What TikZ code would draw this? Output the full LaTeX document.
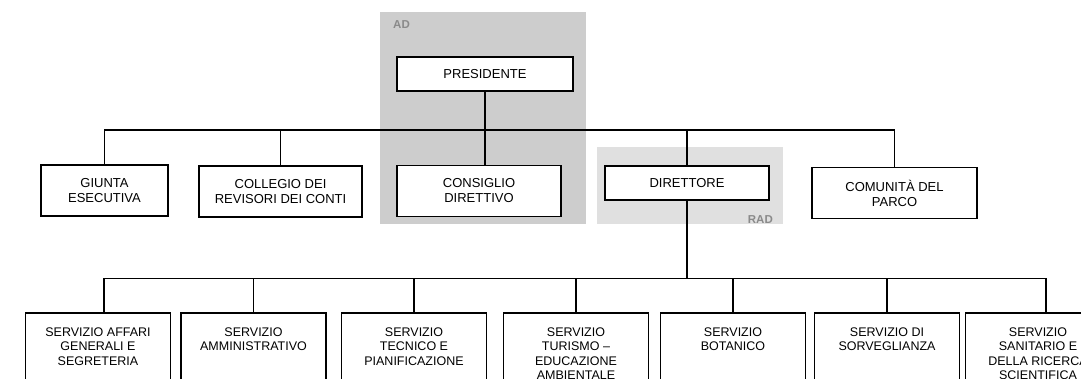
\documentclass[tikz,border=0pt]{standalone}
\usepackage{fontspec}
\setmainfont{Liberation Sans}
\usepackage{xcolor}
\usepackage{tikz}

\definecolor{adgray}{HTML}{CDCDCD}
\definecolor{radgray}{HTML}{E0E0E0}
\definecolor{labelgray}{HTML}{8A8A8A}

\newcommand{\servtext}[1]{\parbox[t][80pt][t]{135pt}{\centering #1}}

\begin{document}
\begin{tikzpicture}[x=1pt, y=-1pt,
        orgbox/.style={draw, fill=white, line width=1.5pt, align=center, inner sep=3pt, font=\fontsize{13}{15}\selectfont},
        topbox/.style={orgbox, minimum height=34pt},
        midbox/.style={orgbox, minimum height=51pt},
        servbox/.style={draw, fill=white, line width=1.5pt, anchor=north, inner xsep=5pt, inner ysep=15pt, font=\fontsize{12.5}{14.5}\selectfont},
        arealabel/.style={text=labelgray, inner sep=0pt, font=\fontsize{11.5}{13}\selectfont\bfseries},
        link/.style={line width=1.2pt}]

        \useasboundingbox (0,0) rectangle (1081,379);
        \clip (0,0) rectangle (1081,379);

        % Define shaded areas AD and RAD
        \fill[adgray] (380,12) rectangle (586,224);
        \fill[radgray] (597,147) rectangle (783,224);
        \node[arealabel, anchor=west] (adlabel) at (393,25) {AD};
        \node[arealabel, anchor=east] (radlabel) at (773,219.5) {RAD};

        % Define top level nodes
        \node[topbox, minimum width=176pt] (presidente) at (485,74) {PRESIDENTE};
        \node[midbox, minimum width=127pt] (giunta) at (104.5,190.5) {GIUNTA\\ESECUTIVA};
        \node[midbox, minimum width=163pt] (collegio) at (280.5,191.5) {COLLEGIO DEI\\REVISORI DEI CONTI};
        \node[midbox, minimum width=164pt] (consiglio) at (479,191) {CONSIGLIO\\DIRETTIVO};
        \node[topbox, minimum width=164pt] (direttore) at (687,183) {DIRETTORE};
        \node[midbox, minimum width=165pt] (comunita) at (894.5,193) {COMUNITÀ DEL\\PARCO};

        % Define service nodes
        \node[servbox] (s1) at (98,312) {\servtext{SERVIZIO AFFARI\\GENERALI E\\SEGRETERIA}};
        \node[servbox] (s2) at (253.5,312) {\servtext{SERVIZIO\\AMMINISTRATIVO}};
        \node[servbox] (s3) at (414,312) {\servtext{SERVIZIO\\TECNICO E\\PIANIFICAZIONE}};
        \node[servbox] (s4) at (576,312) {\servtext{SERVIZIO\\TURISMO --\\EDUCAZIONE\\AMBIENTALE}};
        \node[servbox] (s5) at (733,312) {\servtext{SERVIZIO\\BOTANICO}};
        \node[servbox] (s6) at (887,312) {\servtext{SERVIZIO DI\\SORVEGLIANZA}};
        \node[servbox] (s7) at (1038,312) {\servtext{SERVIZIO\\SANITARIO E\\DELLA RICERCA\\SCIENTIFICA}};

        % Define connections of the top level
        \coordinate (bus) at (486,130);
        \draw[link] (presidente.south) -- (presidente.south |- consiglio.north);
        \draw[link] (giunta.north) |- (bus -| comunita.north) -- (comunita.north);
        \draw[link] (collegio.north) -- (collegio.north |- bus);
        \draw[link] (direttore.north) -- (direttore.north |- bus);

        % Define connections of the services
        \coordinate (bus2) at (691,278.5);
        \draw[link] (direttore.south) -- (direttore.south |- bus2);
        \draw[link] ([xshift=6pt]s1.north) |- ([xshift=8pt]bus2 -| s7.north) -- ([xshift=8pt]s7.north);
        \foreach \s in {s2,s3,s4,s5,s6}
            \draw[link] (\s.north) -- (\s.north |- bus2);

    \end{tikzpicture}
\end{document}
